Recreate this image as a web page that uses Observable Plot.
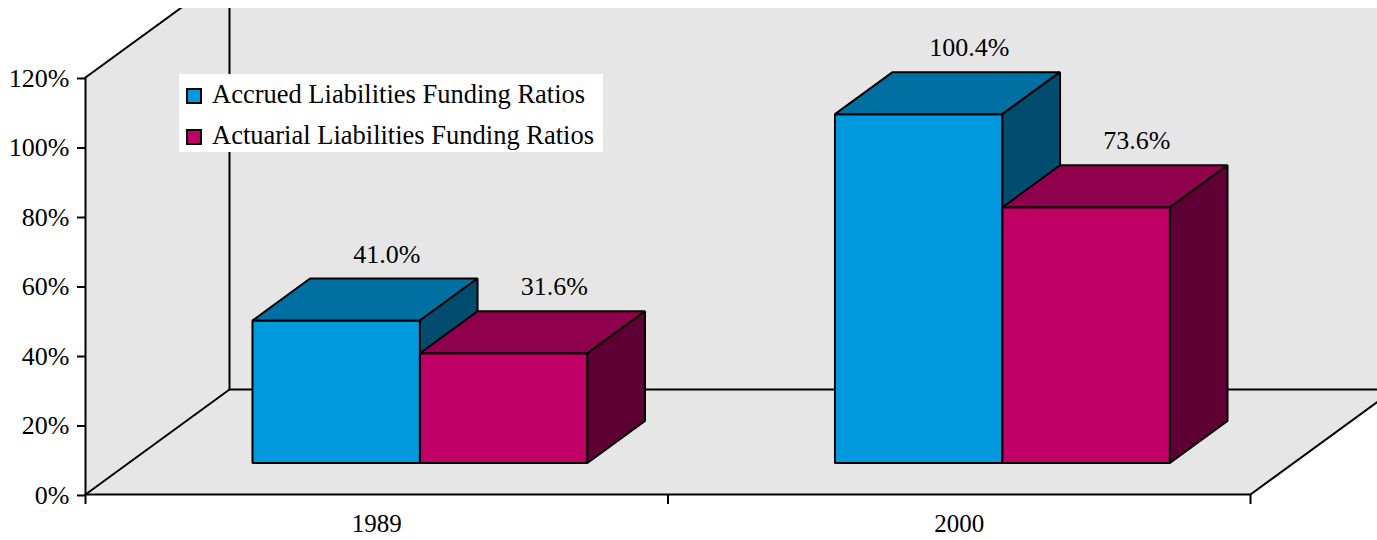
<!DOCTYPE html>
<html><head><meta charset="utf-8">
<script src="https://cdn.jsdelivr.net/npm/d3@7"></script>
<script src="https://cdn.jsdelivr.net/npm/@observablehq/plot@0.6"></script>
<style>
body{margin:0;background:#fff;font-family:"Liberation Serif","Times New Roman",serif;}
#wrap{position:relative;width:1377px;height:540px;overflow:hidden;}
#chart{position:absolute;left:0;top:8px;}
#chart svg{overflow:hidden;display:block;}
.legend{position:absolute;left:179px;top:74px;width:424px;height:78px;background:#fff;}
.legend .item{position:absolute;left:0;height:26px;line-height:26px;font-size:26.5px;color:#000;white-space:nowrap;}
.legend .sw{position:absolute;box-sizing:border-box;width:16px;height:16px;border:2px solid #000;}
.legend .lab{position:absolute;left:33px;top:0;}
</style></head><body>
<div id="wrap"><div id="chart"></div><div class="legend" id="legend"></div></div>
<script>
// ---- data ----
const years = ["1989", "2000"];
const seriesNames = ["Accrued Liabilities Funding Ratios", "Actuarial Liabilities Funding Ratios"];
const accrued = [41.0, 100.4];
const actuarial = [31.6, 73.6];
const yTicks = [0, 20, 40, 60, 80, 100, 120];
const valueLabels = [["41.0%", "100.4%"], ["31.6%", "73.6%"]]; // per series, per year

// ---- styles ----
const frontColors = ["#0099DD", "#C00066"];
const topColors = ["#0070A3", "#8F004D"];
const sideColors = ["#004D70", "#5E0033"];
const wallColor = "#E6E6E6";

// ---- 3D geometry (data units) ----
const KX = 0.2472, KY = 30.2;      // depth offset per unit depth
const BAR_W = 0.2875, Z0 = 0.3, Z1 = 0.7, YMAX = 120;
const proj = (x, y, z) => ({x: x + z * KX, y: y + z * KY});

const series = [accrued, actuarial];
const polys = [];
function poly(id, fill, pts) { pts.forEach(p => polys.push({id, fill, ...p})); }
// draw left to right so later bars overlap earlier side faces
years.forEach((yr, i) => {
  series.forEach((vals, s) => {
    const v = vals[i];
    const x0 = i + 0.5 - BAR_W + s * BAR_W, x1 = x0 + BAR_W;
    const id = `${yr}-${s}`;
    poly(id + "f", frontColors[s], [proj(x0,0,Z0), proj(x1,0,Z0), proj(x1,v,Z0), proj(x0,v,Z0)]);
    poly(id + "t", topColors[s], [proj(x0,v,Z0), proj(x1,v,Z0), proj(x1,v,Z1), proj(x0,v,Z1)]);
    poly(id + "s", sideColors[s], [proj(x1,0,Z0), proj(x1,0,Z1), proj(x1,v,Z1), proj(x1,v,Z0)]);
  });
});

const wall = [proj(0,0,0), proj(2,0,0), proj(2,0,1), proj(2,YMAX,1), proj(0,YMAX,1), proj(0,YMAX,0)]
  .map(p => ({id: "wall", ...p}));
const edgeDefs = [
  [[0,0,0],[2,0,0]], [[0,0,0],[0,0,1]], [[2,0,0],[2,0,1]], [[0,0,1],[2,0,1]],
  [[0,0,1],[0,YMAX,1]], [[0,YMAX,0],[0,YMAX,1]], [[0,0,0],[0,YMAX,0]]
];
const edges = edgeDefs.flatMap((e, k) => e.map(p => ({id: k, ...proj(...p)})));

const labels = [];
series.forEach((vals, s) => vals.forEach((v, i) => {
  labels.push({...proj(i + 0.5 - BAR_W + s * BAR_W + BAR_W / 2, v, Z1), text: valueLabels[s][i]});
}));

const chart = Plot.plot({
  width: 1377, height: 532,
  marginLeft: 85, marginRight: 127, marginTop: 69, marginBottom: 46,
  style: {fontFamily: "'Liberation Serif','Times New Roman',serif", color: "#000", background: "transparent", overflow: "hidden"},
  x: {domain: [0, 2]},
  y: {domain: [0, YMAX]},
  color: {type: "identity"},
  marks: [
    Plot.line(wall, {x: "x", y: "y", fill: wallColor, stroke: "none", curve: "linear-closed"}),
    Plot.line(edges, {x: "x", y: "y", z: "id", stroke: "#000", strokeWidth: 2}),
    Plot.axisY({ticks: yTicks, tickFormat: d => `${d}%`, tickSize: 8, tickPadding: 8, strokeWidth: 2, fontSize: 26, label: null, dy: 1, fill: "#000"}),
    Plot.axisX({ticks: [0, 1, 2], tickSize: 10, strokeWidth: 2, tickFormat: () => "", label: null}),
    Plot.axisX({ticks: [0.5, 1.5], tickSize: 0, tickPadding: 20, tickFormat: d => years[Math.floor(d)], fontSize: 25, label: null, fill: "#000"}),
    Plot.line(polys, {x: "x", y: "y", z: "id", fill: "fill", stroke: "#000", strokeWidth: 2, curve: "linear-closed", strokeLinejoin: "miter"}),
    Plot.text(labels, {x: "x", y: "y", text: "text", dx: -7, dy: -16, lineAnchor: "bottom", fontSize: 26, fill: "#000"})
  ]
});
document.getElementById("chart").appendChild(chart);

// legend
const leg = document.getElementById("legend");
seriesNames.forEach((name, s) => {
  const it = document.createElement("div");
  it.className = "item";
  it.style.top = (7 + s * 41) + "px";
  const sw = document.createElement("span");
  sw.className = "sw";
  sw.style.left = "7px"; sw.style.top = "7px";
  sw.style.background = frontColors[s];
  const lab = document.createElement("span");
  lab.className = "lab";
  lab.textContent = name;
  it.appendChild(sw); it.appendChild(lab);
  leg.appendChild(it);
});
</script>
</body></html>
